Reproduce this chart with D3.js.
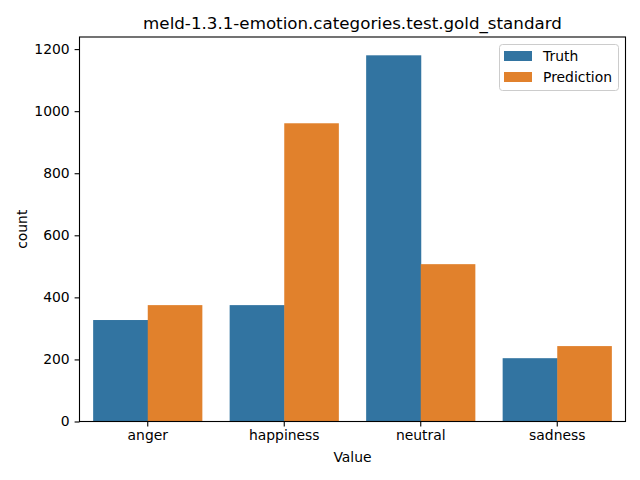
<!DOCTYPE html>
<html><head><meta charset="utf-8">
<script src="https://cdn.jsdelivr.net/npm/d3@7"></script>
<style>body{margin:0;background:#fff}svg{font-family:"DejaVu Sans",sans-serif}</style>
</head><body><svg id="c" width="640" height="480"></svg>
<script>
const categories = ["anger","happiness","neutral","sadness"];
const seriesNames = ["Truth","Prediction"];
const truthValues = [327, 375, 1180, 204];
const predictionValues = [375, 961, 507, 243];
const yTicks = [0,200,400,600,800,1000,1200];
const colors = ["#3274a1","#e1812c"];

const svg = d3.select("#c");
const L=79.5, R=625.5, T=37, B=421.5;
const x = d3.scaleBand().domain(categories).range([L,R]).paddingInner(0.2).paddingOuter(0.1);
const x1 = d3.scaleBand().domain(seriesNames).range([0,x.bandwidth()]);
const y = d3.scaleLinear().domain([0,1239]).range([B,T]);
const data = [truthValues,predictionValues];

categories.forEach((c,i)=>{
  seriesNames.forEach((s,j)=>{
    svg.append("rect").attr("x",x(c)+x1(s)).attr("y",y(data[j][i]))
      .attr("width",x1.bandwidth()+(j===0?0.5:0)).attr("height",y(0)-y(data[j][i])).attr("fill",colors[j]);
  });
});

const ya = svg.append("g").attr("transform",`translate(${L},0)`).call(d3.axisLeft(y).tickValues(yTicks).tickSize(4.9).tickPadding(4.9).tickFormat(d3.format("d")));
const xa = svg.append("g").attr("transform",`translate(0,${B})`).call(d3.axisBottom(x).tickSize(4.9).tickPadding(3.5));
[ya,xa].forEach(a=>{a.selectAll("text").attr("font-size",13.9).attr("fill","#000").style("font-family","DejaVu Sans");a.select(".domain").remove();a.selectAll("line").attr("stroke","#000").attr("stroke-width",1.1);});

svg.append("rect").attr("x",L).attr("y",T).attr("width",R-L).attr("height",B-T).attr("fill","none").attr("stroke","#000").attr("stroke-width",1.1);

svg.append("text").attr("x",(L+R)/2).attr("y",29).attr("text-anchor","middle").attr("font-size",16.7).text("meld-1.3.1-emotion.categories.test.gold_standard");
svg.append("text").attr("x",(L+R)/2).attr("y",462).attr("text-anchor","middle").attr("font-size",13.9).text("Value");
svg.append("text").attr("transform",`translate(27,${(T+B)/2}) rotate(-90)`).attr("text-anchor","middle").attr("font-size",13.9).text("count");

const lg = svg.append("g");
lg.append("rect").attr("x",499.5).attr("y",44.5).attr("width",119).attr("height",46).attr("rx",3)
  .attr("fill","#fff").attr("fill-opacity",0.8).attr("stroke","#ccc").attr("stroke-width",1);
seriesNames.forEach((s,j)=>{
  lg.append("rect").attr("x",504).attr("y",51+j*21).attr("width",28).attr("height",10).attr("fill",colors[j]);
  lg.append("text").attr("x",543).attr("y",61+j*21).attr("font-size",13.9).text(s);
});
</script></body></html>
